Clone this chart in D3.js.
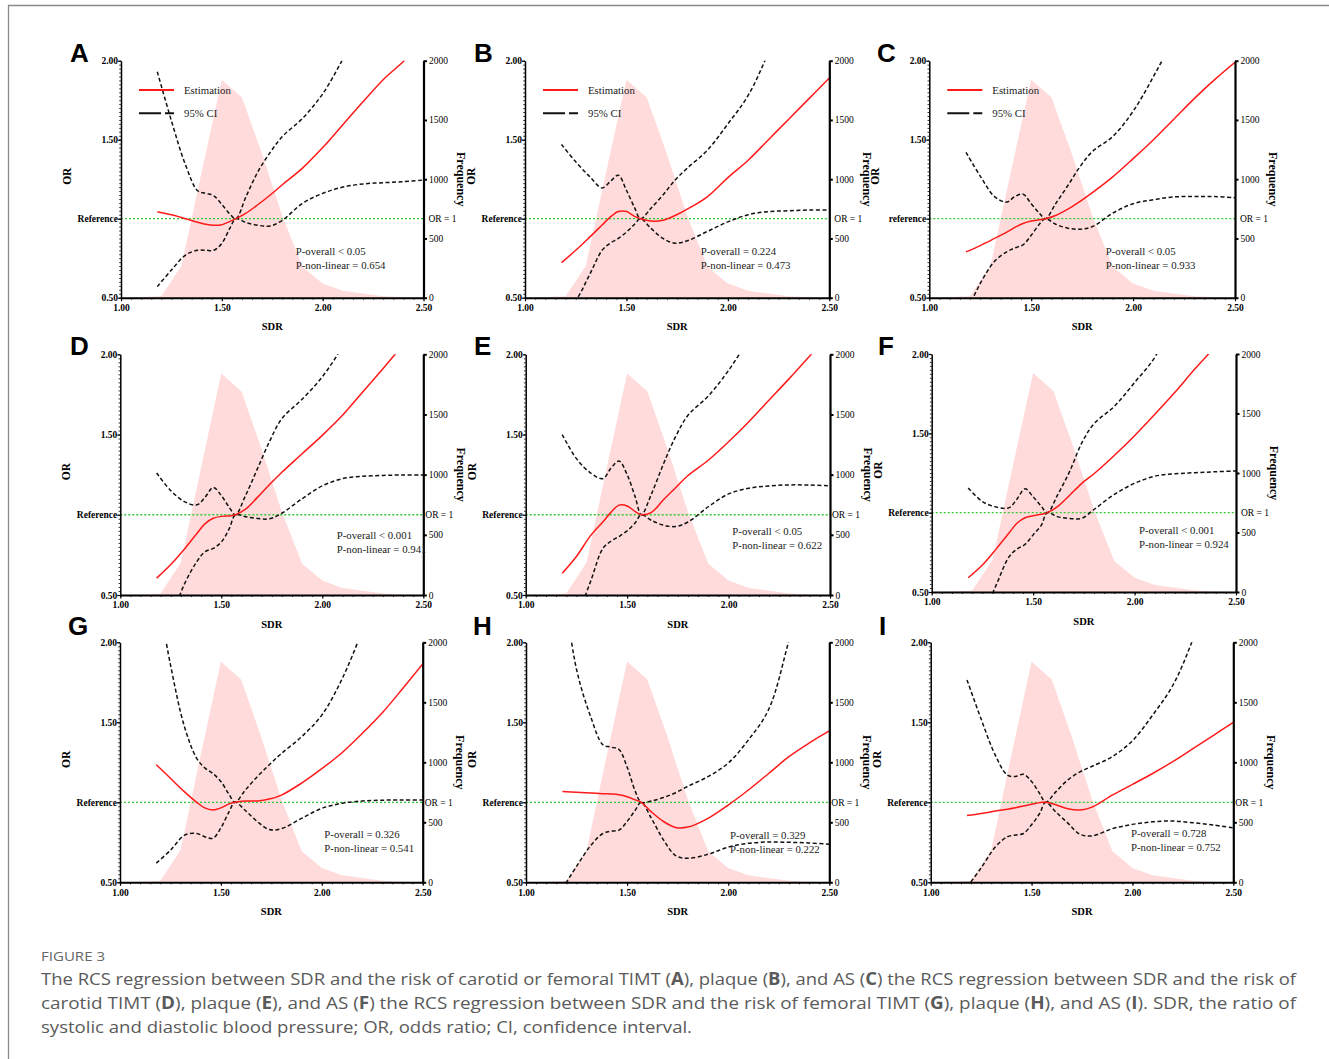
<!DOCTYPE html>
<html><head><meta charset="utf-8">
<script src="https://cdn.jsdelivr.net/npm/d3@7"></script>
<style>body{margin:0;background:#fff}svg{display:block}</style>
</head><body>
<svg id="c" width="1329" height="1059"></svg>
<script>
// ---------------- DATA ----------------
const sdrGrid = [1.18,1.25,1.32,1.38,1.42,1.46,1.50,1.54,1.57,1.62,1.68,1.74,1.80,1.90,2.00,2.10,2.20,2.30,2.40,2.50];
const freqSDR = [1.0,1.1,1.2,1.3,1.4,1.5,1.6,1.7,1.8,1.9,2.0,2.1,2.2,2.3,2.4,2.5];
const freqCount = [0,5,12,270,1060,1840,1690,1210,690,260,120,58,35,12,5,0];
const orTicks = [0.5,1.0,1.5,2.0];
const orTickLabels = ["0.50","Reference","1.50","2.00"];
const sdrTicks = [1.0,1.5,2.0,2.5];
const freqTicks = [0,500,1000,1500,2000];
const panelIds = ["A","B","C","D","E","F","G","H","I"];
const refLabels = ["Reference","Reference","reference","Reference","Reference","Reference","Reference","Reference","Reference"];
const pOverall = ["P-overall < 0.05","P-overall = 0.224","P-overall < 0.05","P-overall < 0.001","P-overall < 0.05","P-overall < 0.001","P-overall = 0.326","P-overall = 0.329","P-overall = 0.728"];
const pNonLinear = ["P-non-linear = 0.654","P-non-linear = 0.473","P-non-linear = 0.933","P-non-linear = 0.941","P-non-linear = 0.622","P-non-linear = 0.924","P-non-linear = 0.541","P-non-linear = 0.222","P-non-linear = 0.752"];
const legendLabels = ["Estimation","95% CI"];

const estA = [1.044,1.025,1.0,0.978,0.965,0.958,0.962,0.983,1.0,1.035,1.09,1.15,1.215,1.32,1.45,1.595,1.74,1.88,1.995,2.13];
const hiA  = [1.93,1.62,1.34,1.177,1.16,1.145,1.09,1.03,1.0,1.14,1.30,1.42,1.52,1.635,1.79,2.01,2.25,2.5,2.75,3.0];
const loA  = [0.57,0.675,0.77,0.80,0.80,0.80,0.844,0.94,1.0,0.975,0.958,0.954,0.99,1.097,1.16,1.2,1.22,1.228,1.234,1.245];

const estB = [0.722,0.80,0.885,0.96,1.01,1.045,1.045,1.015,1.0,0.985,0.99,1.02,1.06,1.14,1.26,1.37,1.50,1.63,1.76,1.89];
const hiB  = [1.47,1.36,1.265,1.195,1.235,1.275,1.18,1.07,1.0,1.065,1.15,1.245,1.32,1.435,1.60,1.78,2.05,2.35,2.65,2.95];
const loB  = [0.38,0.48,0.65,0.80,0.845,0.875,0.915,0.965,1.0,0.94,0.875,0.845,0.86,0.92,0.98,1.025,1.045,1.05,1.055,1.055];

const estC = [0.79,0.83,0.875,0.915,0.945,0.97,0.985,0.993,1.0,1.02,1.06,1.11,1.165,1.265,1.38,1.50,1.63,1.76,1.88,1.99];
const hiC  = [1.42,1.27,1.14,1.105,1.14,1.155,1.095,1.035,1.0,1.095,1.21,1.33,1.425,1.52,1.68,1.90,2.15,2.45,2.75,3.05];
const loC  = [0.40,0.59,0.73,0.79,0.815,0.835,0.895,0.965,1.0,0.965,0.94,0.933,0.95,1.035,1.095,1.12,1.138,1.14,1.14,1.133];

const estD = [0.605,0.69,0.79,0.885,0.945,0.978,0.99,0.993,1.0,1.035,1.11,1.19,1.265,1.38,1.495,1.62,1.765,1.91,2.06,2.21];
const hiD  = [1.26,1.15,1.08,1.062,1.11,1.17,1.12,1.045,1.0,1.12,1.29,1.46,1.60,1.72,1.86,2.05,2.3,2.6,2.9,3.2];
const loD  = [0.2,0.36,0.575,0.71,0.77,0.79,0.83,0.915,1.0,0.988,0.977,0.975,1.01,1.10,1.18,1.225,1.24,1.245,1.248,1.248];

const estE = [0.635,0.74,0.87,0.955,1.015,1.06,1.055,1.02,1.0,1.015,1.095,1.17,1.245,1.34,1.455,1.58,1.715,1.85,1.99,2.13];
const hiE  = [1.50,1.35,1.26,1.225,1.29,1.335,1.25,1.11,1.0,1.13,1.32,1.49,1.62,1.74,1.90,2.1,2.35,2.6,2.9,3.2];
const loE  = [0.2,0.36,0.585,0.79,0.835,0.865,0.90,0.95,1.0,0.965,0.935,0.927,0.955,1.05,1.13,1.165,1.18,1.186,1.185,1.18];

const estF = [0.59,0.67,0.775,0.87,0.933,0.968,0.98,0.99,1.0,1.038,1.11,1.185,1.245,1.36,1.485,1.62,1.76,1.91,2.05,2.2];
const hiF  = [1.155,1.07,1.035,1.03,1.085,1.15,1.10,1.04,1.0,1.11,1.26,1.44,1.56,1.67,1.82,1.98,2.25,2.55,2.85,3.15];
const loF  = [0.2,0.35,0.55,0.72,0.77,0.80,0.86,0.92,1.0,0.975,0.963,0.965,1.02,1.115,1.185,1.23,1.245,1.252,1.258,1.263];

const estG = [1.235,1.15,1.065,1.0,0.965,0.952,0.965,0.99,1.0,1.008,1.008,1.02,1.045,1.12,1.21,1.31,1.43,1.56,1.71,1.865];
const hiG  = [2.35,1.86,1.47,1.275,1.215,1.18,1.13,1.05,1.0,1.075,1.16,1.235,1.305,1.41,1.545,1.77,2.07,2.4,2.75,3.1];
const loG  = [0.62,0.70,0.795,0.805,0.785,0.775,0.84,0.94,1.0,0.95,0.88,0.83,0.835,0.90,0.962,0.994,1.008,1.013,1.015,1.015];

const estH = [1.067,1.063,1.058,1.054,1.052,1.047,1.035,1.015,1.0,0.94,0.88,0.843,0.845,0.90,0.983,1.077,1.18,1.285,1.37,1.446];
const hiH  = [2.4,1.83,1.535,1.36,1.345,1.33,1.22,1.07,1.0,1.008,1.03,1.06,1.10,1.16,1.245,1.39,1.58,2.01,2.5,3.0];
const loH  = [0.46,0.60,0.73,0.805,0.82,0.826,0.88,0.95,1.0,0.90,0.765,0.667,0.65,0.675,0.72,0.744,0.752,0.75,0.746,0.738];

const estI = [0.917,0.93,0.945,0.957,0.966,0.977,0.988,0.998,1.0,0.985,0.96,0.952,0.97,1.045,1.112,1.18,1.254,1.335,1.417,1.50];
const hiI  = [1.765,1.52,1.295,1.17,1.162,1.175,1.13,1.055,1.0,1.065,1.14,1.19,1.225,1.285,1.385,1.545,1.73,2.02,2.4,2.8];
const loI  = [0.47,0.59,0.72,0.785,0.795,0.805,0.86,0.93,1.0,0.94,0.87,0.80,0.79,0.835,0.862,0.878,0.883,0.872,0.858,0.84];

const estSeries = [estA,estB,estC,estD,estE,estF,estG,estH,estI];
const hiSeries  = [hiA,hiB,hiC,hiD,hiE,hiF,hiG,hiH,hiI];
const loSeries  = [loA,loB,loC,loD,loE,loF,loG,loH,loI];

const captionTitle = "FIGURE 3";
const captionLines = [
  [["The RCS regression between SDR and the risk of carotid or femoral TIMT (",0],["A",1],["), plaque (",0],["B",1],["), and AS (",0],["C",1],[") the RCS regression between SDR and the risk of",0]],
  [["carotid TIMT (",0],["D",1],["), plaque (",0],["E",1],["), and AS (",0],["F",1],[") the RCS regression between SDR and the risk of femoral TIMT (",0],["G",1],["), plaque (",0],["H",1],["), and AS (",0],["I",1],["). SDR, the ratio of",0]],
  [["systolic and diastolic blood pressure; OR, odds ratio; CI, confidence interval.",0]]
];

// ---------------- LAYOUT ----------------
const layout = [
  {x0:121,  x1:423.5, yt:60.7,  yb:297.7, lx:70,  ly:62,  px:295.7, py:251.5, orOff:5, legend:true},
  {x0:525,  x1:829.3, yt:60.7,  yb:297.7, lx:474, ly:62,  px:700.7, py:251,   orOff:5, legend:true},
  {x0:929.3,x1:1235,  yt:60.7,  yb:297.7, lx:877, ly:62,  px:1105.7,py:251,   orOff:5, legend:true},
  {x0:120.3,x1:423.3, yt:354.3, yb:595,   lx:70,  ly:355, px:336.7, py:535,   orOff:2, legend:false},
  {x0:525.7,x1:830,   yt:354.3, yb:595,   lx:474, ly:355, px:732.3, py:531.7, orOff:2, legend:false},
  {x0:931.7,x1:1236,  yt:354,   yb:592,   lx:878, ly:355, px:1139,  py:530,   orOff:5, legend:false},
  {x0:120,  x1:422.7, yt:642.3, yb:882.3, lx:68,  ly:635, px:324.3, py:834.3, orOff:2, legend:false},
  {x0:526,  x1:829.3, yt:642.3, yb:882.3, lx:473, ly:635, px:730,   py:835,   orOff:2, legend:false},
  {x0:930.7,x1:1233.3,yt:642.3, yb:882.3, lx:879, ly:635, px:1131,  py:833.3, orOff:2, legend:false}
];

const SERIF = "'Liberation Serif','Times New Roman',serif";
const svg = d3.select("#c");
svg.append("rect").attr("width",1329).attr("height",1059).attr("fill","#fff");
// frame
svg.append("line").attr("x1",8).attr("x2",1329).attr("y1",5.5).attr("y2",5.5).attr("stroke","#8a8a8a").attr("stroke-width",1.3);
svg.append("line").attr("x1",8.5).attr("x2",8.5).attr("y1",5).attr("y2",1059).attr("stroke","#8a8a8a").attr("stroke-width",1.3);
const defs = svg.append("defs");

function styleText(sel, size, weight){
  sel.selectAll("text").attr("font-family",SERIF).attr("font-size",size).attr("font-weight",weight).attr("fill","#000");
}

panelIds.forEach((id,i)=>{
  const L = layout[i];
  const x = d3.scaleLinear().domain([1,2.5]).range([L.x0,L.x1]);
  const y = d3.scaleLinear().domain([0.5,2]).range([L.yb,L.yt]);
  const yf = d3.scaleLinear().domain([0,2000]).range([L.yb,L.yt]);
  const g = svg.append("g");
  const cid = "clip"+i;
  defs.append("clipPath").attr("id",cid).append("rect")
    .attr("x",L.x0).attr("y",L.yt).attr("width",L.x1-L.x0).attr("height",L.yb-L.yt);

  // frequency polygon
  g.append("path")
    .datum(freqSDR.map((s,k)=>[s,freqCount[k]]))
    .attr("d", d3.area().x(d=>x(d[0])).y0(L.yb).y1(d=>yf(d[1])))
    .attr("fill","#ffdbdb").attr("clip-path",`url(#${cid})`);

  // reference line
  g.append("line").attr("x1",L.x0).attr("x2",L.x1).attr("y1",y(1)).attr("y2",y(1))
    .attr("stroke","#2ecc2e").attr("stroke-width",1.3).attr("stroke-dasharray","2,2");

  // curves
  const line = d3.line().x(d=>x(d[0])).y(d=>y(d[1])).curve(d3.curveCatmullRom.alpha(0.5));
  const cg = g.append("g").attr("clip-path",`url(#${cid})`);
  [hiSeries[i], loSeries[i]].forEach(ser=>{
    cg.append("path").datum(sdrGrid.map((s,k)=>[s,ser[k]])).attr("d",line)
      .attr("fill","none").attr("stroke","#111").attr("stroke-width",1.5).attr("stroke-dasharray","4,2.5");
  });
  cg.append("path").datum(sdrGrid.map((s,k)=>[s,estSeries[i][k]])).attr("d",line)
    .attr("fill","none").attr("stroke","#ff1a1a").attr("stroke-width",1.5);

  // left axis: minor ticks
  const minorY = d3.range(0,61).map(k=>0.5+k*0.025);
  g.append("g").attr("transform",`translate(${L.x0},0)`)
    .call(d3.axisLeft(y).tickValues(minorY).tickSize(1.8).tickSizeOuter(0).tickFormat(""))
    .call(a=>{a.select(".domain").attr("stroke","#000").attr("stroke-width",1.5);a.selectAll(".tick line").attr("stroke","#000").attr("stroke-width",0.8);});
  const la = g.append("g").attr("transform",`translate(${L.x0},0)`)
    .call(d3.axisLeft(y).tickValues(orTicks).tickSize(3).tickPadding(0).tickSizeOuter(0)
      .tickFormat((d,k)=> k===1 ? refLabels[i] : orTickLabels[k]))
    .call(a=>{a.select(".domain").remove();a.selectAll(".tick line").attr("stroke","#000").attr("stroke-width",1.2);});
  styleText(la, 9.5, "bold");

  // right axis
  const ra = g.append("g").attr("transform",`translate(${L.x1},0)`)
    .call(d3.axisRight(yf).tickValues(freqTicks).tickSize(3.5).tickPadding(2).tickSizeOuter(0).tickFormat(d3.format("d")))
    .call(a=>{a.select(".domain").attr("stroke","#000").attr("stroke-width",2.2);a.selectAll(".tick line").attr("stroke","#000").attr("stroke-width",2);});
  styleText(ra, 9.5, "normal");

  // bottom axis
  const minorX = d3.range(0,31).map(k=>1+k*0.05);
  g.append("g").attr("transform",`translate(0,${L.yb})`)
    .call(d3.axisBottom(x).tickValues(minorX).tickSize(2).tickSizeOuter(0).tickFormat(""))
    .call(a=>{a.select(".domain").attr("stroke","#000").attr("stroke-width",2);a.selectAll(".tick line").attr("stroke","#000").attr("stroke-width",0.9);});
  const ba = g.append("g").attr("transform",`translate(0,${L.yb})`)
    .call(d3.axisBottom(x).tickValues(sdrTicks).tickSize(3.5).tickPadding(3).tickSizeOuter(0).tickFormat(d3.format(".2f")))
    .call(a=>{a.select(".domain").remove();a.selectAll(".tick line").attr("stroke","#000").attr("stroke-width",1.2);});
  styleText(ba, 9.5, "bold");

  // OR = 1 label
  g.append("text").attr("x",L.x1+L.orOff).attr("y",y(1)).attr("dy","0.35em")
    .attr("font-family",SERIF).attr("font-size",9.5).text("OR = 1");

  // axis titles
  g.append("text").attr("x",(L.x0+L.x1)/2).attr("y",L.yb+29).attr("dy","0.35em").attr("text-anchor","middle")
    .attr("font-family",SERIF).attr("font-size",10.5).attr("font-weight","bold").text("SDR");
  g.append("text").attr("transform",`translate(${L.x0-54},${(L.yt+L.yb)/2-3}) rotate(-90)`).attr("dy","0.35em")
    .attr("text-anchor","middle").attr("font-family",SERIF).attr("font-size",11.5).attr("font-weight","bold").text("OR");
  g.append("text").attr("transform",`translate(${L.x1+38},${(L.yt+L.yb)/2}) rotate(90)`).attr("dy","0.35em")
    .attr("text-anchor","middle").attr("font-family",SERIF).attr("font-size",12).attr("font-weight","bold").text("Frequency");

  // panel letter
  g.append("text").attr("x",L.lx).attr("y",L.ly).attr("font-family","'Liberation Sans',Arial,sans-serif")
    .attr("font-size",26).attr("font-weight","bold").text(id);

  // p values
  g.append("text").attr("x",L.px).attr("y",L.py).attr("dy","0.35em").attr("font-family",SERIF)
    .attr("font-size",10.8).attr("fill","#222").text(pOverall[i]);
  g.append("text").attr("x",L.px).attr("y",L.py+14).attr("dy","0.35em").attr("font-family",SERIF)
    .attr("font-size",10.8).attr("fill","#222").text(pNonLinear[i]);

  // legend
  if (L.legend){
    const lx0 = L.x0+18, lx1 = L.x0+53, ly0 = L.yt+29.3, ly1 = L.yt+52.6;
    g.append("line").attr("x1",lx0).attr("x2",lx1).attr("y1",ly0).attr("y2",ly0).attr("stroke","#ff1a1a").attr("stroke-width",2);
    g.append("line").attr("x1",lx0).attr("x2",lx1).attr("y1",ly1).attr("y2",ly1).attr("stroke","#111").attr("stroke-width",2).attr("stroke-dasharray","22,4");
    [ly0,ly1].forEach((yy,k)=>{
      g.append("text").attr("x",lx1+10).attr("y",yy).attr("dy","0.35em").attr("font-family",SERIF)
        .attr("font-size",10.8).attr("fill","#222").text(legendLabels[k]);
    });
  }
});

// caption
svg.append("text").attr("x",41).attr("y",961).attr("font-family","'Open Sans',sans-serif")
  .attr("font-size",12.5).attr("fill","#666").attr("textLength",64).attr("lengthAdjust","spacingAndGlyphs").text(captionTitle);
const capW = [1255,1255,651];
captionLines.forEach((parts,k)=>{
  const t = svg.append("text").attr("x",41).attr("y",985+24*k).attr("font-family","'Open Sans',sans-serif")
    .attr("font-size",17).attr("fill","#5a5a5a").attr("textLength",capW[k]).attr("lengthAdjust","spacingAndGlyphs");
  parts.forEach(p=>t.append("tspan").attr("font-weight",p[1]?"bold":"normal").text(p[0]));
});
</script>
</body></html>
